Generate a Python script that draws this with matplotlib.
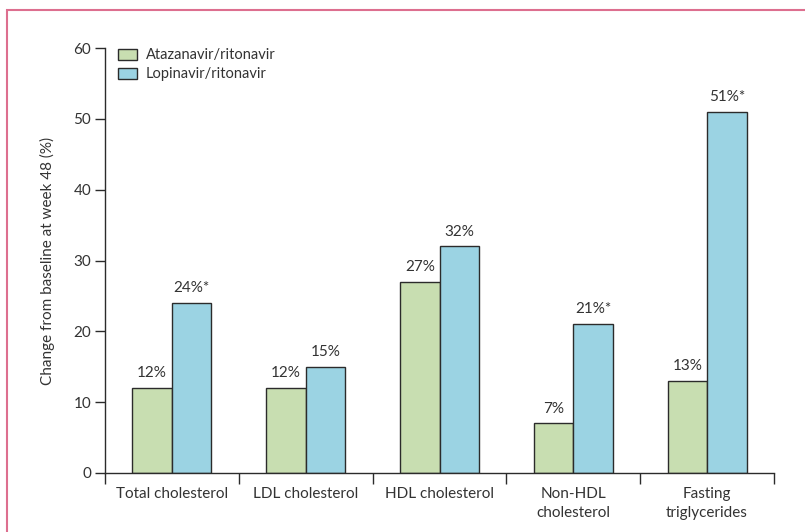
import numpy as np
import matplotlib.pyplot as plt
from matplotlib.patches import Rectangle, Patch

plt.rcParams['font.family'] = ['Lato', 'DejaVu Sans']

# Lipid changes at week 48
categories = ['Total cholesterol', 'LDL cholesterol', 'HDL cholesterol',
              'Non-HDL\ncholesterol', 'Fasting\ntriglycerides']
atazanavir = [12, 12, 27, 7, 13]
lopinavir = [24, 15, 32, 21, 51]
lopinavir_sig = [True, False, False, True, True]
series_names = ['Atazanavir/ritonavir', 'Lopinavir/ritonavir']

green = '#c8deb1'
blue = '#9bd3e3'
edge = '#2b2b2b'
txt = '#333333'
fs = 11

fig = plt.figure(figsize=(8.05, 5.32), dpi=100)
ax = fig.add_axes([105 / 805, 1 - 473 / 532, 669 / 805, 425 / 532])

# outer frame, cut off at the right and bottom
fig.patches.append(Rectangle((7 / 805, -0.1), 1.2, 1 - 10 / 532 + 0.1,
                             transform=fig.transFigure, fill=False,
                             edgecolor='#dd6f8f', linewidth=1.5))

x = np.arange(len(categories)) + 0.5
w = 0.295
ax.bar(x - w / 2, atazanavir, w, color=green, edgecolor=edge, linewidth=1.0)
ax.bar(x + w / 2, lopinavir, w, color=blue, edgecolor=edge, linewidth=1.0)

for xi, v in zip(x - w / 2, atazanavir):
    ax.text(xi, v + 1.1, f'{v}%', ha='center', va='bottom', fontsize=fs, color=txt)
for xi, v, s in zip(x + w / 2, lopinavir, lopinavir_sig):
    ax.text(xi, v + 1.1, f'{v}%' + ('*' if s else ''), ha='center', va='bottom',
            fontsize=fs, color=txt)

ax.set_xlim(0, 5)
ax.set_ylim(0, 60)
ax.set_yticks(range(0, 61, 10))
ax.set_xticks(range(0, 6))
ax.set_xticklabels([])
ax.set_xticks(x, minor=True)
ax.set_xticklabels(categories, minor=True, fontsize=fs, color=txt, linespacing=1.45)
ax.tick_params(axis='x', which='minor', length=0, pad=10)
ax.tick_params(axis='x', which='major', direction='out', length=8, width=1, color=edge)
ax.tick_params(axis='y', direction='out', length=7, width=1, color=edge,
               labelsize=fs, labelcolor=txt, pad=3)

for sp in ['top', 'right']:
    ax.spines[sp].set_visible(False)
for sp in ['left', 'bottom']:
    ax.spines[sp].set_color(edge)
    ax.spines[sp].set_linewidth(1)

ax.set_ylabel('Change from baseline at week 48 (%)', fontsize=fs, color=txt, labelpad=13)

handles = [Patch(facecolor=green, edgecolor=edge), Patch(facecolor=blue, edgecolor=edge)]
ax.legend(handles, series_names, loc='upper left', bbox_to_anchor=(0.0, 1.03),
          frameon=False, fontsize=10.5, handlelength=1.3, handleheight=0.8,
          handletextpad=0.6, labelspacing=0.35, labelcolor=txt)

fig.savefig('out.png', dpi=100)
